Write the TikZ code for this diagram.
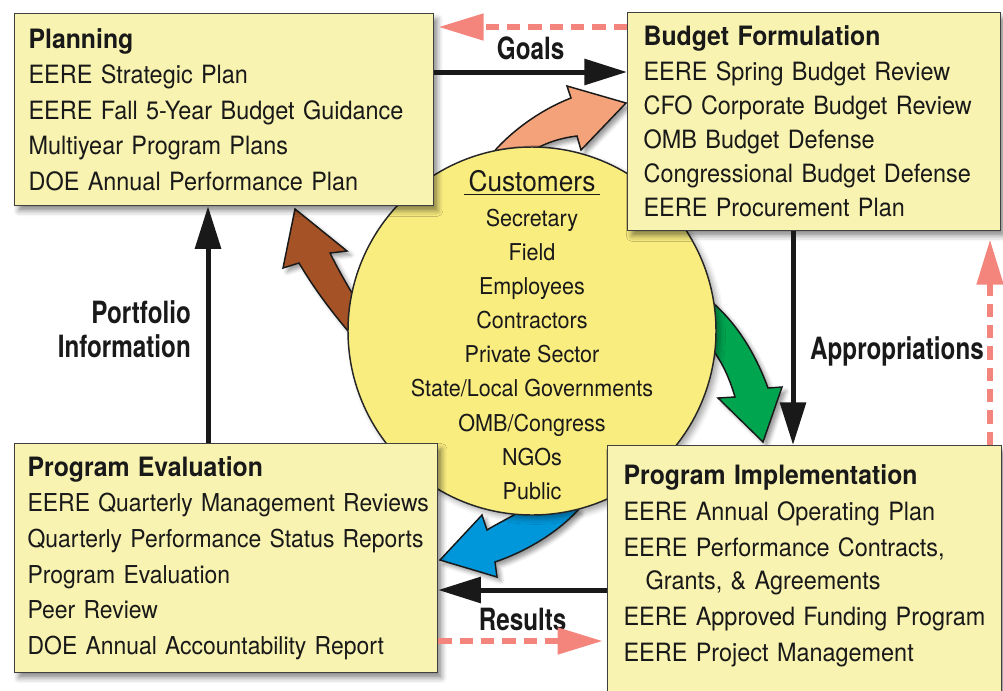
\documentclass[tikz,border=0pt]{standalone}
\usepackage{fontspec}
\setmainfont[FakeStretch=0.93]{TeX Gyre Heros}
\newfontfamily\lblfont[FakeStretch=0.79]{TeX Gyre Heros}
\usetikzlibrary{arrows.meta,shadows.blur}
\definecolor{boxyellow}{RGB}{248,243,176}
\definecolor{hubyellow}{RGB}{250,237,128}
\definecolor{goalorange}{RGB}{244,162,122}
\definecolor{portbrown}{RGB}{164,82,38}
\definecolor{implgreen}{RGB}{0,165,80}
\definecolor{evalblue}{RGB}{0,150,218}
\definecolor{fbpink}{RGB}{243,133,124}
\newcommand{\boxhead}[1]{{\fontsize{20}{26.6}\selectfont\bfseries #1}}

\begin{document}
\begin{tikzpicture}[x=0.75pt, y=-0.75pt,
stage/.style = {draw=black!75, line width=0.9pt, fill=boxyellow, anchor=north west, align=left, text=black!90,
  font=\fontsize{18.9}{26.7}\selectfont, blur shadow={shadow xshift=3pt, shadow yshift=-4pt, shadow blur radius=4pt, shadow opacity=45}},
hub/.style = {draw=black!85, line width=1.1pt, fill=hubyellow, circle, minimum size=276pt, inner sep=0pt,
  blur shadow={shadow xshift=3pt, shadow yshift=-3pt, shadow blur radius=4pt, shadow opacity=35}},
hubtext/.style = {align=center, text=black!90, font=\fontsize{17.4}{25.6}\selectfont},
swoop/.style = {draw=black!90, line width=1.1pt, line join=miter,
  blur shadow={shadow xshift=3pt, shadow yshift=-3pt, shadow blur radius=3pt, shadow opacity=40}},
lbl/.style = {font=\lblfont\fontsize{23}{25.5}\selectfont\bfseries, text=black!90, inner sep=0pt},
flow/.style = {->, draw=black!90, line width=3.75pt},
feedback/.style = {draw=fbpink, line width=5pt, dash pattern=on 10pt off 6pt, -{Triangle[length=34pt, width=19pt, fill=fbpink]}},
>={Triangle[length=32pt, width=19pt]}
]
\useasboundingbox (0,0) rectangle (1003,690);

% coloured swoops, tails hidden under the circle
\draw[swoop, fill=goalorange] (495,172) -- (491,155) .. controls (510,132) and (540,110) .. (571,98) -- (567,86) -- (626,103)
  -- (581,150) -- (577,136) .. controls (560,138) and (545,143) .. (530,152) -- (530,172) -- cycle;
\draw[swoop, fill=implgreen] (700,303) -- (713,303) .. controls (738,325) and (756,355) .. (768,388) -- (782,387) -- (763,442)
  -- (718,398) -- (735,397) .. controls (730,380) and (724,366) .. (715,353) -- (700,350) -- cycle;
\draw[swoop, fill=evalblue] (540,500) -- (512,516) .. controls (505,520) and (495,525) .. (487,530) -- (482,515) -- (440,560)
  -- (497,577) -- (495,562) .. controls (530,550) and (560,530) .. (578,510) -- (570,495) -- cycle;
\draw[swoop, fill=portbrown] (370,300) -- (352,293) .. controls (343,278) and (336,265) .. (330,253) -- (347,251) -- (295,209)
  -- (283,268) -- (299,263) .. controls (315,290) and (332,312) .. (348,331) -- (365,331) -- cycle;

% customers
\node[hub] (cust) at (532,331) {};
\node[hubtext] (custlist) at (532,335) {{\fontsize{21.2}{25.6}\selectfont\underline{\,Customers\,}}\\[0.6pt]
  Secretary\\ Field\\ Employees\\ Contractors\\ Private Sector\\ State/Local Governments\\ OMB/Congress\\ NGOs\\ Public};

% the four stages
\node[stage, text width=293.25pt, inner xsep=10.5pt, minimum height=144pt] (plan) at (14,13) {\boxhead{Planning}\\
  EERE Strategic Plan\\ EERE Fall 5-Year Budget Guidance\\ Multiyear Program Plans\\ DOE Annual Performance Plan};
\node[stage, text width=255.75pt, inner xsep=12pt, minimum height=163.5pt, font=\fontsize{18.9}{25.65}\selectfont] (budget) at (627,12) {\boxhead{Budget Formulation}\\
  EERE Spring Budget Review\\ CFO Corporate Budget Review\\ OMB Budget Defense\\ Congressional Budget Defense\\ EERE Procurement Plan};
\node[stage, text width=297.75pt, inner xsep=9.75pt, minimum height=171.75pt, font=\fontsize{18.5}{26.7}\selectfont] (eval) at (14,443) {\boxhead{Program Evaluation}\\
  \mbox{EERE Quarterly Management Reviews}\\ \mbox{Quarterly Performance Status Reports}\\ Program Evaluation\\ Peer Review\\ DOE Annual Accountability Report};
\node[stage, text width=271.5pt, inner xsep=12pt, inner ysep=14pt, font=\fontsize{18.9}{27}\selectfont] (impl) at (607,445) {\boxhead{Program Implementation}\\
  EERE Annual Operating Plan\\ EERE Performance Contracts,\\[-2.25pt] \hspace*{16.5pt}Grants, \& Agreements\\
  EERE Approved Funding Program\\ EERE Project Management\rule[-32pt]{0pt}{0pt}};

% main cycle
\draw[flow] (plan.east |- 0,72) -- node[lbl, above=7.5pt] (goals) {Goals} (budget.west |- 0,72);
\draw[flow] (budget.south -| 793,0) -- node[lbl, right=11pt, pos=0.56] (approp) {Appropriations} (impl.north -| 793,0);
\draw[flow] (impl.west |- 0,590) -- node[lbl, below=11.5pt] (results) {Results} (eval.east |- 0,590);
\draw[flow] (eval.north -| 208,0) -- node[lbl, left=11pt, align=right, pos=0.48] (portlbl) {Portfolio\\Information} (plan.south -| 208,0);

% feedback
\draw[feedback, shorten >=3pt] (budget.west |- 0,27) -- (plan.east |- 0,27);
\draw[feedback, shorten >=6pt] (impl.north -| 990,0) -- (budget.south -| 990,0);
\draw[feedback, shorten >=3pt] (eval.east |- 0,641) -- (impl.west |- 0,641);

\end{tikzpicture}
\end{document}
